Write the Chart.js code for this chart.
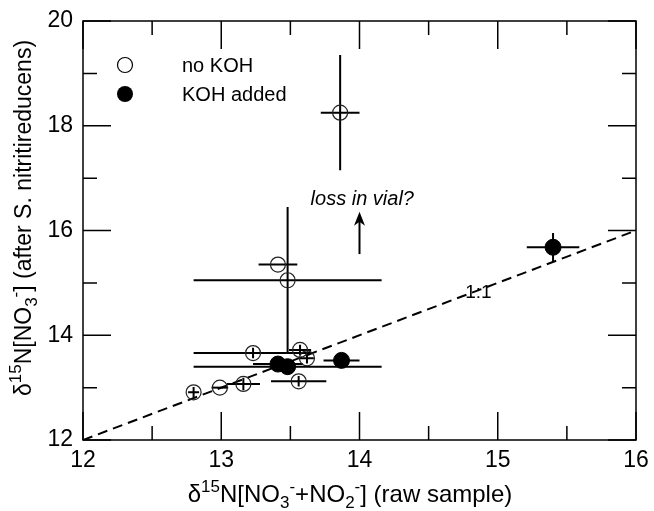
<!DOCTYPE html>
<html>
<head>
<meta charset="utf-8">
<script src="https://cdn.jsdelivr.net/npm/chart.js@4.4.0/dist/chart.umd.min.js"></script>
<style>
html, body { margin: 0; padding: 0; background: #fff; }
</style>
</head>
<body>
<canvas id="isoChart" width="654" height="511"></canvas>
<script>
// no KOH (open circles)
var noKohX    = [12.80, 12.99, 13.16, 13.23, 13.41, 13.48, 13.57, 13.62, 13.56, 13.86];
var noKohY    = [12.91, 13.00, 13.07, 13.66, 15.35, 15.05, 13.72, 13.56, 13.12, 18.25];
var noKohXErr = [0.04, 0.06, 0.12, 0.43, 0.14, 0.68, 0.08, 0.05, 0.20, 0.14];
var noKohYErr = [0.10, 0.00, 0.12, 0.10, 0.00, 1.40, 0.10, 0.10, 0.10, 1.10];

// KOH added (filled circles)
var kohX    = [13.41, 13.48, 13.87, 15.40];
var kohY    = [13.45, 13.40, 13.52, 15.68];
var kohXErr = [0.18, 0.68, 0.13, 0.19];
var kohYErr = [0.05, 0.05, 0.05, 0.27];

// 1:1 line
var oneToOneX = [12, 16];
var oneToOneY = [12, 16];

var xTicks = [12, 13, 14, 15, 16];
var xMinor = [12.5, 13.5, 14.5, 15.5];
var yTicks = [12, 14, 16, 18, 20];
var yMinor = [13, 15, 17, 19];

var FONT = '"Liberation Sans", Arial, sans-serif';

function toPoints(xs, ys) {
    return xs.map(function(v, i) { return { x: v, y: ys[i] }; });
}

function drawErrors(ctx, sx, sy, xs, ys, ex, ey) {
    for (var i = 0; i < xs.length; i++) {
        var px = sx.getPixelForValue(xs[i]);
        var py = sy.getPixelForValue(ys[i]);
        ctx.beginPath();
        if (ex[i] > 0) {
            ctx.moveTo(sx.getPixelForValue(xs[i] - ex[i]), py);
            ctx.lineTo(sx.getPixelForValue(xs[i] + ex[i]), py);
        }
        if (ey[i] > 0) {
            ctx.moveTo(px, sy.getPixelForValue(ys[i] - ey[i]));
            ctx.lineTo(px, sy.getPixelForValue(ys[i] + ey[i]));
        }
        ctx.stroke();
    }
}

// draws text pieces with sub/superscripts, starting at x
function richText(ctx, parts, x, y, measureOnly) {
    var w = 0;
    parts.forEach(function(p) {
        ctx.font = p[1] + 'px ' + FONT;
        if (!measureOnly) ctx.fillText(p[0], x + w, y + p[2]);
        w += ctx.measureText(p[0]).width;
    });
    return w;
}

var xTitle = [['\u03b4', 24, 0], ['15', 17, -10], ['N[NO', 24, 0], ['3', 17, 6], ['-', 17, -10],
              ['+NO', 24, 0], ['2', 17, 6], ['-', 17, -10], ['] (raw sample)', 24, 0]];
var yTitle = [['\u03b4', 23, 0], ['15', 17, -10], ['N[NO', 23, 0], ['3', 17, 6], ['-', 17, -10],
              ['] (after S. nitritireducens)', 23, 0]];

var decor = {
    id: 'decor',
    beforeDatasetsDraw: function(chart) {
        var ctx = chart.ctx, sx = chart.scales.x, sy = chart.scales.y;
        ctx.save();
        ctx.strokeStyle = '#000';
        ctx.lineWidth = 2;
        drawErrors(ctx, sx, sy, noKohX, noKohY, noKohXErr, noKohYErr);
        drawErrors(ctx, sx, sy, kohX, kohY, kohXErr, kohYErr);
        ctx.restore();
    },
    afterDraw: function(chart) {
        var ctx = chart.ctx, sx = chart.scales.x, sy = chart.scales.y;
        var a = chart.chartArea;
        ctx.save();
        ctx.strokeStyle = '#000';
        ctx.fillStyle = '#000';

        // frame
        ctx.lineWidth = 1.5;
        ctx.strokeRect(a.left, a.top, a.right - a.left, a.bottom - a.top);

        // inward ticks on all four sides
        ctx.beginPath();
        function xTick(v, len) {
            var p = sx.getPixelForValue(v);
            ctx.moveTo(p, a.bottom); ctx.lineTo(p, a.bottom - len);
            ctx.moveTo(p, a.top); ctx.lineTo(p, a.top + len);
        }
        function yTick(v, len) {
            var p = sy.getPixelForValue(v);
            ctx.moveTo(a.left, p); ctx.lineTo(a.left + len, p);
            ctx.moveTo(a.right, p); ctx.lineTo(a.right - len, p);
        }
        xTicks.forEach(function(v) { xTick(v, 28); });
        xMinor.forEach(function(v) { xTick(v, 14); });
        yTicks.forEach(function(v) { yTick(v, 28); });
        yMinor.forEach(function(v) { yTick(v, 14); });
        ctx.stroke();

        // legend
        ctx.lineWidth = 1.2;
        ctx.beginPath();
        ctx.arc(125, 65, 7.5, 0, Math.PI * 2);
        ctx.stroke();
        ctx.beginPath();
        ctx.arc(125, 94, 8, 0, Math.PI * 2);
        ctx.fill();
        ctx.font = '20px ' + FONT;
        ctx.textBaseline = 'middle';
        ctx.textAlign = 'left';
        ctx.fillText('no KOH', 182, 66);
        ctx.fillText('KOH added', 182, 95);

        // annotations
        ctx.textAlign = 'center';
        ctx.font = 'italic 20px ' + FONT;
        ctx.fillText('loss in vial?', sx.getPixelForValue(14.02), sy.getPixelForValue(16.59));
        ctx.font = '19px ' + FONT;
        ctx.fillText('1:1', sx.getPixelForValue(14.86), sy.getPixelForValue(14.81));

        // arrow
        var ax = sx.getPixelForValue(14);
        var ay0 = sy.getPixelForValue(15.55);
        var ay1 = sy.getPixelForValue(16.36);
        ctx.lineWidth = 2;
        ctx.beginPath();
        ctx.moveTo(ax, ay0);
        ctx.lineTo(ax, ay1 + 8);
        ctx.stroke();
        ctx.beginPath();
        ctx.moveTo(ax, ay1);
        ctx.lineTo(ax - 5.5, ay1 + 14);
        ctx.lineTo(ax, ay1 + 10);
        ctx.lineTo(ax + 5.5, ay1 + 14);
        ctx.closePath();
        ctx.fill();

        // axis titles
        ctx.textAlign = 'left';
        ctx.textBaseline = 'alphabetic';
        var w = richText(ctx, xTitle, 0, 0, true);
        richText(ctx, xTitle, 350 - w / 2, 502, false);

        ctx.translate(31, 218);
        ctx.rotate(-Math.PI / 2);
        w = richText(ctx, yTitle, 0, 0, true);
        richText(ctx, yTitle, -w / 2, 0, false);
        ctx.restore();
    }
};

var isoChart = document.getElementById('isoChart');
var myChart = new Chart(isoChart, {
    type: 'scatter',
    data: {
        datasets: [{
            label: 'KOH added',
            data: toPoints(kohX, kohY),
            pointStyle: 'circle',
            pointRadius: 8,
            pointBackgroundColor: '#000',
            pointBorderColor: '#000',
            pointBorderWidth: 1,
            order: 0
        }, {
            label: 'no KOH',
            data: toPoints(noKohX, noKohY),
            pointStyle: 'circle',
            pointRadius: 7.5,
            pointBackgroundColor: 'rgba(255,255,255,0)',
            pointBorderColor: '#222',
            pointBorderWidth: 1.2,
            order: 1
        }, {
            type: 'line',
            label: '1:1',
            data: toPoints(oneToOneX, oneToOneY),
            borderColor: '#000',
            borderWidth: 2,
            borderDash: [10, 6],
            pointRadius: 0,
            fill: false,
            order: 2
        }]
    },
    options: {
        responsive: false,
        animation: false,
        devicePixelRatio: 1,
        layout: {
            padding: { left: 0, top: 21, right: 18, bottom: 0 }
        },
        plugins: {
            legend: { display: false },
            tooltip: { enabled: false }
        },
        scales: {
            x: {
                type: 'linear',
                min: 12,
                max: 16,
                grid: { display: false, drawTicks: false },
                border: { display: false },
                ticks: {
                    color: '#000',
                    font: { family: FONT, size: 23 },
                    padding: 7,
                    maxRotation: 0,
                    autoSkip: false
                },
                afterBuildTicks: function(axis) {
                    axis.ticks = xTicks.map(function(v) { return { value: v }; });
                },
                afterFit: function(axis) {
                    axis.height = 71;
                    axis.paddingLeft = 0;
                    axis.paddingRight = 0;
                }
            },
            y: {
                type: 'linear',
                min: 12,
                max: 20,
                grid: { display: false, drawTicks: false },
                border: { display: false },
                ticks: {
                    color: '#000',
                    font: { family: FONT, size: 23 },
                    padding: 10,
                    autoSkip: false
                },
                afterBuildTicks: function(axis) {
                    axis.ticks = yTicks.map(function(v) { return { value: v }; });
                },
                afterFit: function(axis) {
                    axis.width = 83;
                    axis.paddingTop = 0;
                    axis.paddingBottom = 0;
                }
            }
        }
    },
    plugins: [decor]
});
</script>
</body>
</html>
